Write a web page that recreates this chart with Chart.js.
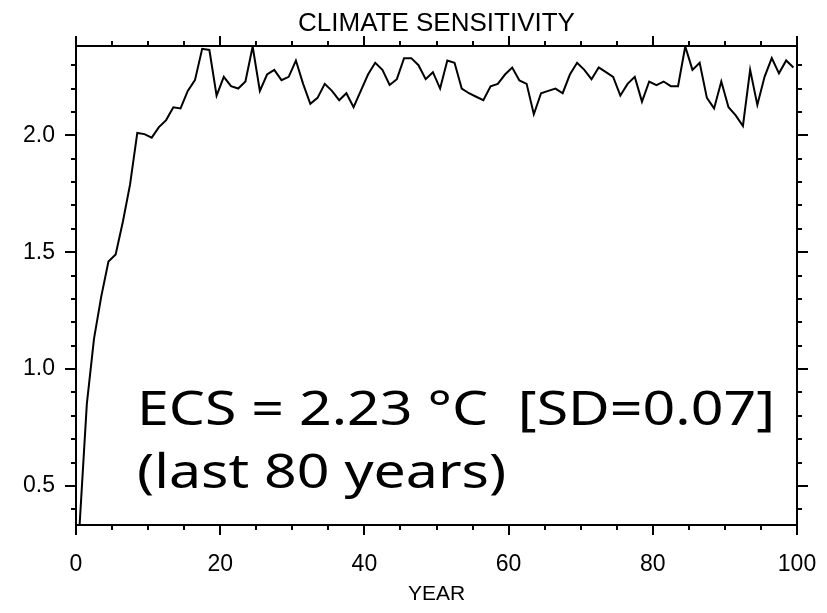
<!DOCTYPE html>
<html>
<head>
<meta charset="utf-8">
<script src="https://cdn.jsdelivr.net/npm/chart.js@4"></script>
<style>
  html, body { margin: 0; padding: 0; background: #fff; }
</style>
</head>
<body>
<canvas id="ecsChart" width="827" height="613"></canvas>
<script>
// annual means, plotted at mid-year
const years = Array.from({ length: 100 }, (_, i) => i + 0.5);

// climate sensitivity (deg C)
const sensitivity = [
  0.333, 0.85, 1.13, 1.31, 1.46, 1.49, 1.63, 1.79, 2.01, 2.005,
  1.99, 2.035, 2.065, 2.12, 2.115, 2.19, 2.236, 2.37, 2.365, 2.17,
  2.25, 2.21, 2.20, 2.23, 2.38, 2.19, 2.26, 2.28, 2.236, 2.25,
  2.32, 2.22, 2.135, 2.16, 2.22, 2.19, 2.15, 2.18, 2.12, 2.19,
  2.26, 2.31, 2.28, 2.215, 2.24, 2.33, 2.33, 2.30, 2.24, 2.27,
  2.20, 2.32, 2.31, 2.20, 2.18, 2.165, 2.15, 2.21, 2.22, 2.26,
  2.29, 2.235, 2.22, 2.09, 2.18, 2.19, 2.20, 2.18, 2.26, 2.31,
  2.28, 2.24, 2.29, 2.27, 2.25, 2.17, 2.22, 2.25, 2.144, 2.23,
  2.215, 2.23, 2.21, 2.21, 2.38, 2.28, 2.31, 2.16, 2.115, 2.23,
  2.12, 2.085, 2.04, 2.28, 2.13, 2.25, 2.33, 2.265, 2.32, 2.29
];

const xTickLabels = [0, 20, 40, 60, 80, 100];
const yTickLabels = [0.5, 1.0, 1.5, 2.0];
const chartTitle = "CLIMATE SENSITIVITY";
const xAxisTitle = "YEAR";
const noteLines = ["ECS = 2.23 \u00B0C  [SD=0.07]", "(last 80 years)"];

const AXIS_FONT = "'Liberation Sans', Arial, sans-serif";
const NOTE_FONT = "'Comic Sans MS', 'Noto Sans', sans-serif";

// IDL-style box: frame, outward ticks on every side, title and note
const idlFrame = {
  id: "idlFrame",
  afterDraw(chart) {
    const { ctx, chartArea: a, scales: { x, y } } = chart;
    ctx.save();
    ctx.strokeStyle = "#000";
    ctx.lineWidth = 2;
    ctx.strokeRect(a.left, a.top, a.right - a.left, a.bottom - a.top);

    ctx.beginPath();
    for (let v = 0; v <= 100; v += 5) {
      const px = Math.round(x.getPixelForValue(v));
      const len = v % 20 === 0 ? 10 : 5;
      ctx.moveTo(px, a.bottom); ctx.lineTo(px, a.bottom + len);
      ctx.moveTo(px, a.top); ctx.lineTo(px, a.top - len);
    }
    for (let i = 4; i <= 23; i++) {
      const py = Math.round(y.getPixelForValue(i / 10));
      const len = i % 5 === 0 ? 11 : 5;
      ctx.moveTo(a.left, py); ctx.lineTo(a.left - len, py);
      ctx.moveTo(a.right, py); ctx.lineTo(a.right + len, py);
    }
    ctx.stroke();

    ctx.fillStyle = "#000";
    ctx.font = "26px " + AXIS_FONT;
    ctx.textAlign = "center";
    ctx.textBaseline = "middle";
    ctx.fillText(chartTitle, (a.left + a.right) / 2, 24);

    // note text, stretched to the width it has in the original
    ctx.font = "47px " + NOTE_FONT;
    ctx.textAlign = "left";
    ctx.textBaseline = "alphabetic";
    const sx = 638 / ctx.measureText(noteLines[0]).width;
    const nx = a.left + 61;
    ctx.translate(nx, 0);
    ctx.scale(sx, 1);
    ctx.fillText(noteLines[0], 0, 425);
    ctx.fillText(noteLines[1], 0, 488);
    ctx.restore();
  }
};

new Chart(document.getElementById("ecsChart"), {
  type: "line",
  data: {
    datasets: [{
      data: years.map((yr, i) => ({ x: yr, y: sensitivity[i] })),
      borderColor: "#000",
      borderWidth: 2,
      pointRadius: 0,
      fill: false,
      tension: 0
    }]
  },
  options: {
    responsive: false,
    animation: false,
    devicePixelRatio: 1,
    layout: { padding: { top: 46, right: 30, left: 0, bottom: 0 } },
    plugins: {
      legend: { display: false },
      tooltip: { enabled: false }
    },
    scales: {
      x: {
        type: "linear",
        min: 0,
        max: 100,
        grid: { display: false, drawTicks: false },
        border: { display: false },
        afterBuildTicks: s => { s.ticks = xTickLabels.map(v => ({ value: v })); },
        afterFit: s => { s.height = 88; s.paddingLeft = 0; s.paddingRight = 0; },
        ticks: {
          color: "#000",
          padding: 26,
          maxRotation: 0,
          font: { family: AXIS_FONT, size: 23 },
          callback: v => String(v)
        },
        title: {
          display: true,
          text: xAxisTitle,
          color: "#000",
          font: { family: AXIS_FONT, size: 21 },
          padding: { top: 0, bottom: 6 }
        }
      },
      y: {
        min: 0.333,
        max: 2.382,
        grid: { display: false, drawTicks: false },
        border: { display: false },
        afterBuildTicks: s => { s.ticks = yTickLabels.map(v => ({ value: v })); },
        afterFit: s => { s.width = 76; s.paddingTop = 0; s.paddingBottom = 0; },
        ticks: {
          color: "#000",
          padding: 21,
          font: { family: AXIS_FONT, size: 23 },
          callback: v => v.toFixed(1)
        }
      }
    }
  },
  plugins: [idlFrame]
});
</script>
</body>
</html>
